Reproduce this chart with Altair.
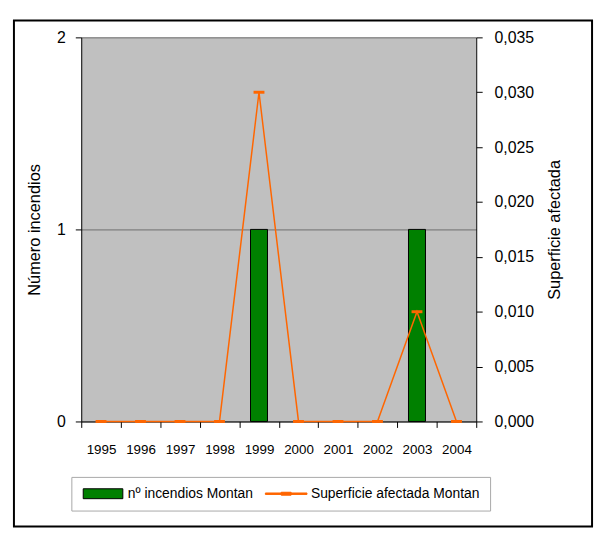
import altair as alt
import pandas as pd

years = ["1995", "1996", "1997", "1998", "1999", "2000", "2001", "2002", "2003", "2004"]
incendios = [0, 0, 0, 0, 1, 0, 0, 0, 1, 0]
superficie = [0, 0, 0, 0, 0.030, 0, 0, 0, 0.010, 0]
series = ["nº incendios Montan", "Superficie afectada Montan"]
fill_colors = ["#008000", "#FF6600"]
stroke_colors = ["#000000", "#FF6600"]

left_ticks = [0, 1, 2]
right_ticks = [0, 0.005, 0.010, 0.015, 0.020, 0.025, 0.030, 0.035]

df = pd.DataFrame({"year": years, "incendios": incendios, "superficie": superficie})
legend_df = pd.DataFrame({"series": series})
frame_df = pd.DataFrame({"k": [0]})

FONT = "Liberation Sans, Arial, sans-serif"

x_enc = alt.X(
    "year:O",
    sort=years,
    title=None,
    scale=alt.Scale(paddingInner=0, paddingOuter=0),
    axis=alt.Axis(
        tickBand="extent",
        labelAngle=0,
        labelFontSize=13.5,
        labelPadding=15,
        tickSize=6,
        domainColor="black",
        tickColor="black",
    ),
)

frame = alt.Chart(frame_df).mark_rect(
    fillOpacity=0, stroke="black", strokeWidth=2
).encode(
    x=alt.value(-68), x2=alt.value(516), y=alt.value(-17), y2=alt.value(494)
)

bars = alt.Chart(df).mark_bar(
    color="#008000", stroke="black", strokeWidth=1, width=alt.RelativeBandSize(0.43)
).encode(
    x=x_enc,
    y=alt.Y(
        "incendios:Q",
        scale=alt.Scale(domain=[0, 2]),
        axis=alt.Axis(
            values=left_ticks,
            labelExpr="format(datum.value, 'd')",
            grid=True,
            gridColor="#6e6e6e",
            title="Número incendios",
            titleFontSize=16.5,
            titleFontWeight="normal",
            titlePadding=14,
            labelFontSize=16,
            labelPadding=10,
            tickSize=6,
            domainColor="black",
            tickColor="black",
        ),
    ),
    strokeOpacity=alt.condition(alt.datum.incendios > 0, alt.value(1), alt.value(0)),
)

line = alt.Chart(df).mark_line(
    color="#FF6600",
    strokeWidth=1.5,
    point=alt.OverlayMarkDef(
        shape="M-1,-0.27H1V0.27H-1Z", size=121, filled=True, color="#FF6600"
    ),
).encode(
    x=x_enc,
    y=alt.Y(
        "superficie:Q",
        scale=alt.Scale(domain=[0, 0.035]),
        axis=alt.Axis(
            orient="right",
            values=right_ticks,
            grid=False,
            labelExpr="replace(format(datum.value, '.3f'), '.', ',')",
            title="Superficie afectada",
            titleAngle=270,
            titleBaseline="top",
            titleFontSize=16.5,
            titleFontWeight="normal",
            titlePadding=13,
            labelFontSize=16,
            labelPadding=12,
            tickSize=6,
            domainColor="black",
            tickColor="black",
        ),
    ),
)

leg = alt.Legend(
    orient="none",
    legendX=-10,
    legendY=444,
    direction="horizontal",
    title=None,
    strokeColor="#a8a8a8",
    padding=10,
    symbolSize=100,
    symbolOffset=15,
    labelOffset=18,
    labelLimit=400,
    columnPadding=10,
    labelFontSize=14,
    labelFont=FONT,
    symbolOpacity=1,
    symbolStrokeWidth=1,
)

legend_layer = alt.Chart(legend_df).mark_point(filled=True, opacity=0).encode(
    x=alt.value(0),
    y=alt.value(0),
    color=alt.Color("series:N", sort=series, scale=alt.Scale(domain=series, range=fill_colors), legend=leg),
    shape=alt.Shape(
        "series:N",
        sort=series,
        scale=alt.Scale(
            domain=series,
            range=["M-4,-1H4V1H-4Z", "M-4.2,-0.15H4.2V0.15H-4.2Z M-1,-0.3H1V0.3H-1Z"],
        ),
        legend=leg,
    ),
    stroke=alt.Stroke("series:N", sort=series, scale=alt.Scale(domain=series, range=stroke_colors), legend=leg),
)

chart = alt.layer(frame, bars, line, legend_layer).resolve_scale(
    y="independent"
).properties(
    width=399,
    height=388,
    autosize=alt.AutoSizeParams(type="none"),
    padding={"left": 74, "top": 27, "right": 122, "bottom": 110},
).configure(
    font=FONT,
).configure_view(
    fill="#C0C0C0", stroke=None
).configure_axis(
    labelFont=FONT, titleFont=FONT, labelColor="black", titleColor="black"
)

chart.save("out.html", embed_options={"renderer": "svg", "actions": False})
